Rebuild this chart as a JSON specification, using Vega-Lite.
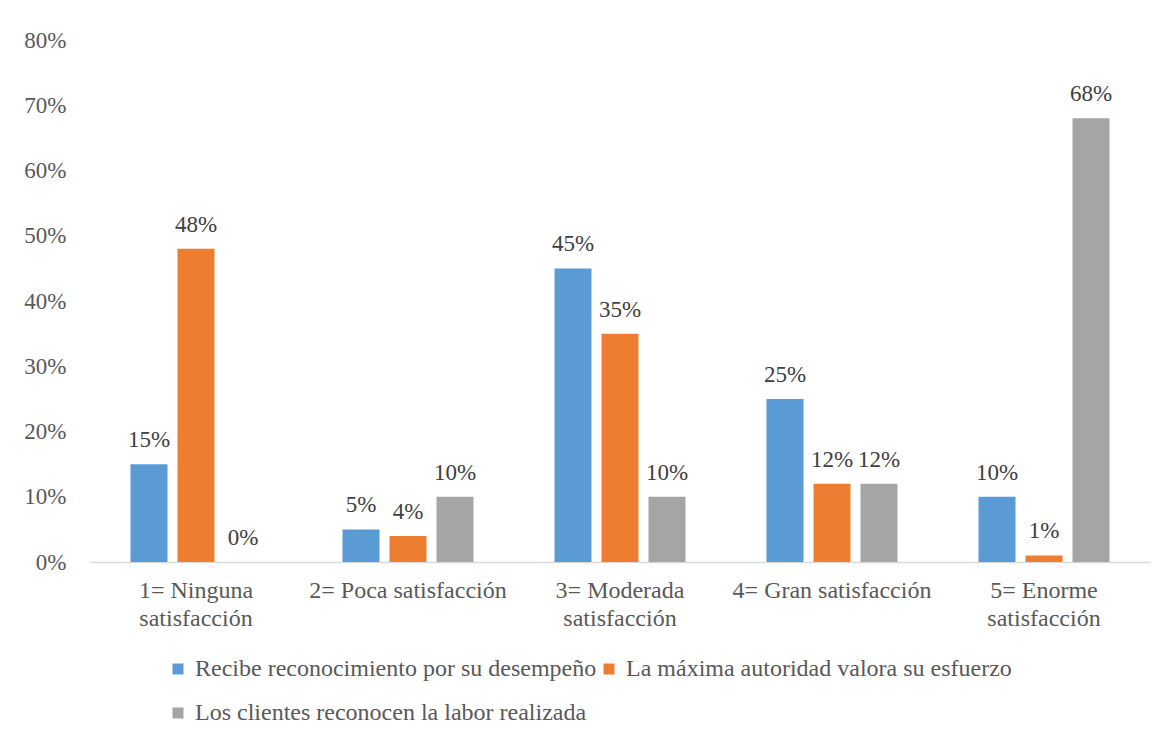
{
  "$schema": "https://vega.github.io/schema/vega-lite/v6.json",
  "width": 1060,
  "height": 522,
  "autosize": {"type": "none"},
  "padding": {"left": 90, "top": 40, "right": 19, "bottom": 175},
  "background": "white",
  "config": {
    "view": {"stroke": null},
    "font": "Liberation Serif",
    "axis": {"labelFont": "Liberation Serif", "labelFontSize": 23, "labelColor": "#595959", "grid": false, "ticks": false, "title": null, "labelLimit": 0},
    "legend": {"labelFont": "Liberation Serif", "labelFontSize": 24, "labelColor": "#595959"}
  },
  "data": {
    "values": [
      {"cat": "1= Ninguna|satisfacción", "serie": "Recibe reconocimiento por su desempeño", "v": 0.15},
      {"cat": "1= Ninguna|satisfacción", "serie": "La máxima autoridad valora su esfuerzo", "v": 0.48},
      {"cat": "1= Ninguna|satisfacción", "serie": "Los clientes reconocen la labor realizada", "v": 0.0},
      {"cat": "2= Poca satisfacción", "serie": "Recibe reconocimiento por su desempeño", "v": 0.05},
      {"cat": "2= Poca satisfacción", "serie": "La máxima autoridad valora su esfuerzo", "v": 0.04},
      {"cat": "2= Poca satisfacción", "serie": "Los clientes reconocen la labor realizada", "v": 0.10},
      {"cat": "3= Moderada|satisfacción", "serie": "Recibe reconocimiento por su desempeño", "v": 0.45},
      {"cat": "3= Moderada|satisfacción", "serie": "La máxima autoridad valora su esfuerzo", "v": 0.35},
      {"cat": "3= Moderada|satisfacción", "serie": "Los clientes reconocen la labor realizada", "v": 0.10},
      {"cat": "4= Gran satisfacción", "serie": "Recibe reconocimiento por su desempeño", "v": 0.25},
      {"cat": "4= Gran satisfacción", "serie": "La máxima autoridad valora su esfuerzo", "v": 0.12},
      {"cat": "4= Gran satisfacción", "serie": "Los clientes reconocen la labor realizada", "v": 0.12},
      {"cat": "5= Enorme|satisfacción", "serie": "Recibe reconocimiento por su desempeño", "v": 0.10},
      {"cat": "5= Enorme|satisfacción", "serie": "La máxima autoridad valora su esfuerzo", "v": 0.01},
      {"cat": "5= Enorme|satisfacción", "serie": "Los clientes reconocen la labor realizada", "v": 0.68}
    ]
  },
  "encoding": {
    "x": {
      "field": "cat", "type": "nominal", "sort": null,
      "scale": {"paddingInner": 0, "paddingOuter": 0},
      "axis": {"labelAngle": 0, "labelFontSize": 24, "labelExpr": "split(datum.label, '|')", "labelLineHeight": 28, "labelPadding": 16, "domainColor": "#d9d9d9", "domainWidth": 1.5, "labelBaseline": "top"}
    },
    "xOffset": {
      "field": "serie", "type": "nominal", "sort": ["Recibe reconocimiento por su desempeño", "La máxima autoridad valora su esfuerzo", "Los clientes reconocen la labor realizada"],
      "scale": {"paddingInner": 0.213, "paddingOuter": 0.862}
    },
    "y": {
      "field": "v", "type": "quantitative",
      "scale": {"domain": [0, 0.8]},
      "axis": {"format": ".0%", "tickCount": 8, "domain": false, "labelPadding": 24}
    }
  },
  "layer": [
    {
      "mark": {"type": "bar"},
      "encoding": {
        "color": {
          "field": "serie", "type": "nominal",
          "sort": ["Recibe reconocimiento por su desempeño", "La máxima autoridad valora su esfuerzo", "Los clientes reconocen la labor realizada"],
          "scale": {"range": ["#5B9BD5", "#ED7D31", "#A5A5A5"]},
          "legend": {"title": null, "orient": "none", "legendX": 76, "legendY": 617, "direction": "horizontal", "columns": 2, "symbolType": "square", "symbolSize": 121, "symbolStrokeWidth": 0, "labelOffset": 5, "columnPadding": 0, "rowPadding": 20, "labelLimit": 700}
        }
      }
    },
    {
      "mark": {"type": "text", "baseline": "alphabetic", "dy": -17, "fontSize": 23, "color": "#404040", "font": "Liberation Serif"},
      "encoding": {
        "text": {"field": "v", "type": "quantitative", "format": ".0%"}
      }
    }
  ]
}
